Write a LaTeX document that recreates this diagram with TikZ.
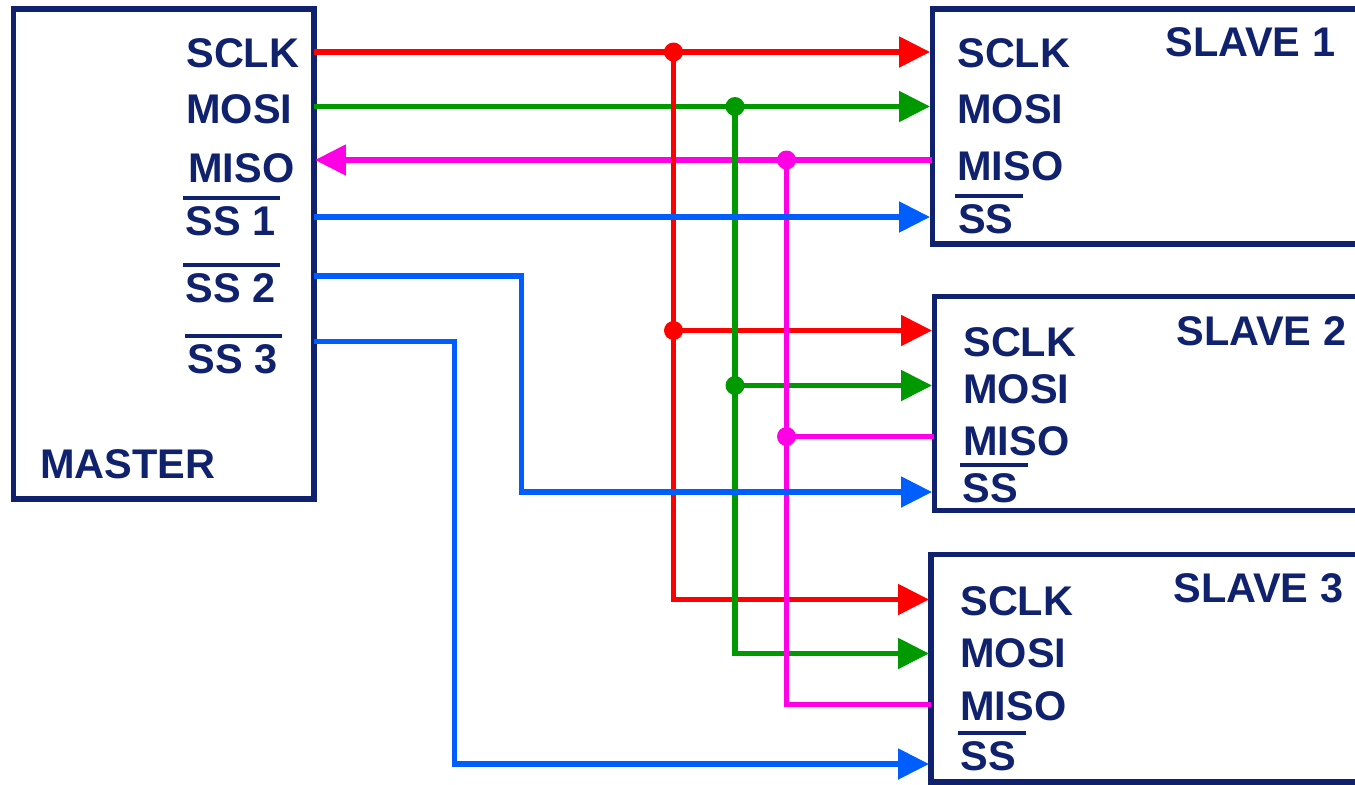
\documentclass[tikz,border=0pt]{standalone}
\usepackage{fontspec}
\setmainfont{Liberation Sans}
\usetikzlibrary{arrows.meta}

\definecolor{navy}{RGB}{16,33,110}
\definecolor{sclkred}{RGB}{255,0,0}
\definecolor{mosigreen}{RGB}{0,153,0}
\definecolor{misopink}{RGB}{255,0,230}
\definecolor{ssblue}{RGB}{0,94,255}
\newcommand{\ssbar}[2][2.3pt]{\vbox{\hrule height 2pt\kern 3.5pt\hbox{\kern 1.5pt#2\kern #1}}}

\begin{document}
\begin{tikzpicture}[x=0.02cm,y=-0.02cm,>={Triangle[length=0.62cm,width=0.6cm]},
  box/.style={draw=navy,line width=3pt,outer sep=0pt,inner sep=0pt,anchor=north west},
  lbl/.style={anchor=base west,inner sep=0pt,text=navy,font=\fontsize{23.6}{28}\selectfont\bfseries},
  wire/.style={line width=3pt}]
\clip (0,0) rectangle (1355,784);

\node[box,minimum width=6.01cm,minimum height=9.8cm] (master) at (13.5,9) {};
\node[box,minimum width=8.75cm,minimum height=4.7cm] (slave1) at (932.5,9) {};
\node[box,minimum width=8.71cm,minimum height=4.28cm] (slave2) at (934.5,296.5) {};
\node[box,minimum width=8.78cm,minimum height=4.55cm] (slave3) at (931,554.5) {};

\node[lbl] (lm_sclk) at (186,68) {SCLK};
\node[lbl] (lm_mosi) at (186,124) {MOSI};
\node[lbl] (lm_miso) at (188,182) {MISO};
\node[lbl] (lm_ss1) at (183,235) {\ssbar{SS 1}};
\node[lbl] (lm_ss2) at (183,302) {\ssbar{SS 2}};
\node[lbl] (lm_ss3) at (185,373) {\ssbar{SS 3}};
\node[lbl] (lm_name) at (40,478) {MASTER};

\node[lbl] (l1_name) at (1165,57) {SLAVE 1};
\node[lbl] (l1_sclk) at (957,68) {SCLK};
\node[lbl] (l1_mosi) at (957,123) {MOSI};
\node[lbl] (l1_miso) at (957,180) {MISO};
\node[lbl] (l1_ss) at (955,233) {\ssbar[5.7pt]{SS}};

\node[lbl] (l2_name) at (1176,345) {SLAVE 2};
\node[lbl] (l2_sclk) at (963,356) {SCLK};
\node[lbl] (l2_mosi) at (963,403) {MOSI};
\node[lbl] (l2_miso) at (963,455) {MISO};
\node[lbl] (l2_ss) at (960,502) {\ssbar[5.7pt]{SS}};

\node[lbl] (l3_name) at (1173,602) {SLAVE 3};
\node[lbl] (l3_sclk) at (960,615) {SCLK};
\node[lbl] (l3_mosi) at (960,667) {MOSI};
\node[lbl] (l3_miso) at (960,720) {MISO};
\node[lbl] (l3_ss) at (958,770) {\ssbar[5.7pt]{SS}};

\coordinate (m_sclk) at (314,52);
\coordinate (m_mosi) at (314,106.5);
\coordinate (m_miso) at (315,160);
\coordinate (m_ss1) at (314,217);
\coordinate (m_ss2) at (314,276);
\coordinate (m_ss3) at (314,341.5);
\coordinate (s1_sclk) at (930,52);
\coordinate (s1_mosi) at (930,106.5);
\coordinate (s1_miso) at (932,160);
\coordinate (s1_ss) at (930,217);
\coordinate (s2_sclk) at (932,330.5);
\coordinate (s2_mosi) at (932,385.5);
\coordinate (s2_miso) at (934,436.5);
\coordinate (s2_ss) at (932,492);
\coordinate (s3_sclk) at (929,599.5);
\coordinate (s3_mosi) at (929,653.5);
\coordinate (s3_miso) at (931,704.5);
\coordinate (s3_ss) at (929,764);
\coordinate (jr1) at (673.5,52);
\coordinate (jr2) at (673.5,330.5);
\coordinate (jg1) at (735,106.5);
\coordinate (jg2) at (735,385.5);
\coordinate (jm1) at (786.5,160);
\coordinate (jm2) at (786.5,436.5);
\coordinate (b_ss2) at (521.5,492);
\coordinate (b_ss3) at (454.5,764);

\draw[wire,sclkred,->] (m_sclk) -- (s1_sclk);
\draw[wire,sclkred,->] (jr2) -- (s2_sclk);
\draw[wire,mosigreen,->] (m_mosi) -- (s1_mosi);
\draw[wire,mosigreen,->] (jg2) -- (s2_mosi);
\draw[wire,misopink,->] (s1_miso) -- (m_miso);
\draw[wire,misopink] (jm2) -- (s2_miso);

\draw[wire,sclkred,->] (jr1) |- (s3_sclk);
\draw[wire,mosigreen,->] (jg1) |- (s3_mosi);
\draw[wire,misopink] (jm1) |- (s3_miso);

\draw[wire,ssblue,->] (m_ss1) -- (s1_ss);
\draw[wire,ssblue,->] (m_ss2) -| (b_ss2) -- (s2_ss);
\draw[wire,ssblue,->] (m_ss3) -| (b_ss3) -- (s3_ss);

\fill[sclkred] (jr1) circle (0.19cm) (jr2) circle (0.19cm);
\fill[mosigreen] (jg1) circle (0.19cm) (jg2) circle (0.19cm);
\fill[misopink] (jm1) circle (0.19cm) (jm2) circle (0.19cm);
\end{tikzpicture}
\end{document}
